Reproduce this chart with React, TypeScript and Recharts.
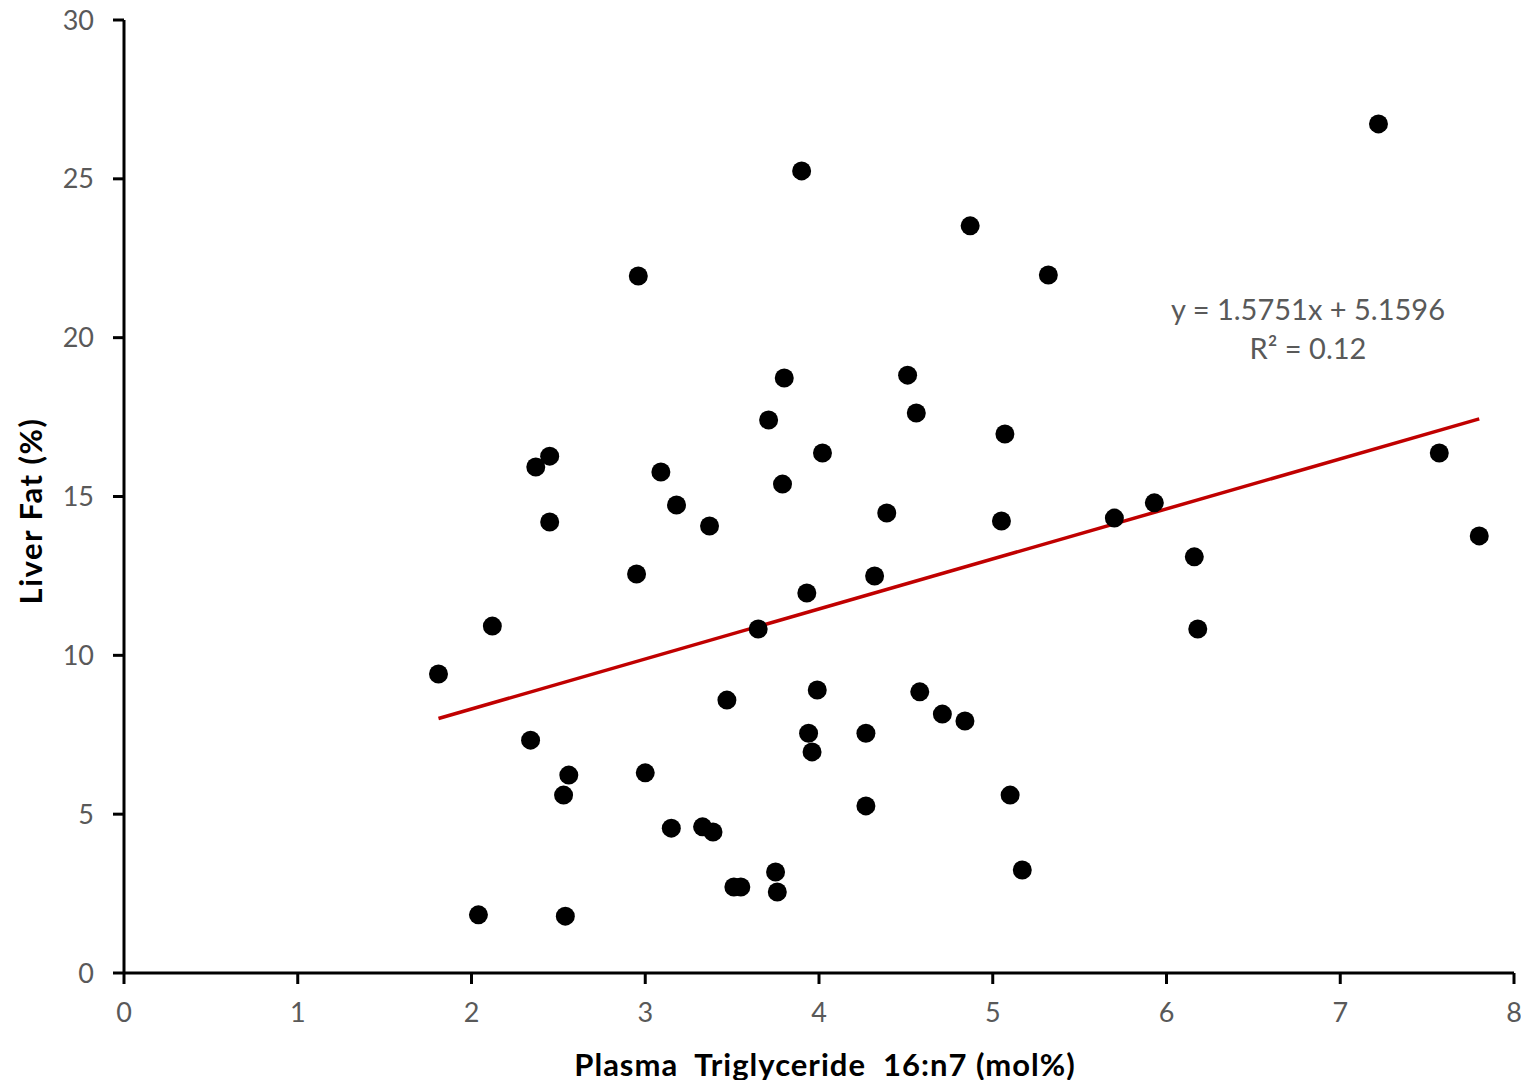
import React from 'react';
import {
  ScatterChart,
  Scatter,
  XAxis,
  YAxis,
  ReferenceLine,
} from 'recharts';

// plasma TG 16:n7 (mol%) vs liver fat (%)
const xValues = [
  1.81, 2.04, 2.12, 2.34, 2.37, 2.45, 2.45, 2.53, 2.56, 2.54,
  2.96, 2.95, 3.0, 3.09, 3.15, 3.18, 3.33, 3.37, 3.39, 3.47,
  3.51, 3.55, 3.65, 3.71, 3.75, 3.76, 3.79, 3.8, 3.9, 3.93,
  3.94, 3.96, 3.99, 4.02, 4.27, 4.27, 4.32, 4.39, 4.51, 4.56,
  4.58, 4.71, 4.84, 4.87, 5.05, 5.07, 5.1, 5.17, 5.32, 5.7,
  5.93, 6.16, 6.18, 7.22, 7.57, 7.8,
];
const yValues = [
  9.41, 1.83, 10.92, 7.33, 15.93, 16.27, 14.2, 5.6, 6.23, 1.79,
  21.94, 12.56, 6.3, 15.77, 4.56, 14.73, 4.6, 14.07, 4.44, 8.59,
  2.71, 2.71, 10.83, 17.41, 3.18, 2.55, 15.39, 18.73, 25.25, 11.96,
  7.55, 6.96, 8.91, 16.37, 7.55, 5.26, 12.5, 14.48, 18.82, 17.63,
  8.85, 8.15, 7.93, 23.52, 14.23, 16.97, 5.6, 3.24, 21.97, 14.32,
  14.8, 13.1, 10.83, 26.73, 16.37, 13.76,
];

const xTicks = [0, 1, 2, 3, 4, 5, 6, 7, 8];
const yTicks = [0, 5, 10, 15, 20, 25, 30];

const slope = 1.5751;
const intercept = 5.1596;
const rSquared = 0.12;

const points = xValues.map((x, i) => ({ x, y: yValues[i] }));
const xMin = Math.min(...xValues);
const xMax = Math.max(...xValues);
const trend = [
  { x: xMin, y: slope * xMin + intercept },
  { x: xMax, y: slope * xMax + intercept },
];

const FONT = 'Lato, "Open Sans", sans-serif';
const TICK = { fill: '#595959', fontSize: 27, fontFamily: FONT };

const Dot = (props: { cx?: number; cy?: number }) => {
  const { cx, cy } = props;
  if (cx === undefined || cy === undefined) return null;
  return <circle cx={cx} cy={cy} r={9.5} fill="#000" />;
};

export default function App() {
  // negative margins cancel the body margin so chart coords = page coords
  return (
    <div style={{ position: 'relative', width: 1529, height: 1088, margin: -8, background: '#fff' }}>
      <ScatterChart
        width={1529}
        height={1088}
        margin={{ top: 20, right: 15, left: 64, bottom: 55 }}
      >
        <XAxis
          type="number"
          dataKey="x"
          domain={[0, 8]}
          ticks={xTicks}
          interval={0}
          axisLine={{ stroke: '#000', strokeWidth: 3 }}
          tickLine={{ stroke: '#000', strokeWidth: 3 }}
          tickSize={11}
          tickMargin={19}
          tick={TICK}
          height={60}
          allowDataOverflow
        />
        <YAxis
          type="number"
          dataKey="y"
          domain={[0, 30]}
          ticks={yTicks}
          interval={0}
          axisLine={{ stroke: '#000', strokeWidth: 3 }}
          tickLine={{ stroke: '#000', strokeWidth: 3 }}
          tickSize={11}
          tickMargin={19}
          tick={TICK}
          width={60}
          allowDataOverflow
        />
        <ReferenceLine
          segment={trend}
          stroke="#c00000"
          strokeWidth={3.5}
          ifOverflow="visible"
        />
        <Scatter data={points} shape={<Dot />} isAnimationActive={false} />
      </ScatterChart>

      <div
        style={{
          position: 'absolute',
          left: 1308,
          top: 289,
          transform: 'translateX(-50%)',
          textAlign: 'center',
          color: '#595959',
          fontFamily: FONT,
          fontSize: 29,
          lineHeight: '39px',
          whiteSpace: 'nowrap',
        }}
      >
        <div>y = {slope}x + {intercept}</div>
        <div>R² = {rSquared}</div>
      </div>

      <div
        style={{
          position: 'absolute',
          left: 30,
          top: 511,
          transform: 'translate(-50%, -50%) rotate(-90deg)',
          fontFamily: FONT,
          fontWeight: 700,
          fontSize: 31,
          letterSpacing: 1.5,
          color: '#000',
          whiteSpace: 'nowrap',
        }}
      >
        Liver Fat (%)
      </div>

      <div
        style={{
          position: 'absolute',
          left: 825,
          top: 1064,
          transform: 'translate(-50%, -50%)',
          fontFamily: FONT,
          fontWeight: 700,
          fontSize: 31,
          letterSpacing: 1,
          color: '#000',
          whiteSpace: 'pre',
        }}
      >
        {'Plasma  Triglyceride  16:n7 (mol%)'}
      </div>
    </div>
  );
}
